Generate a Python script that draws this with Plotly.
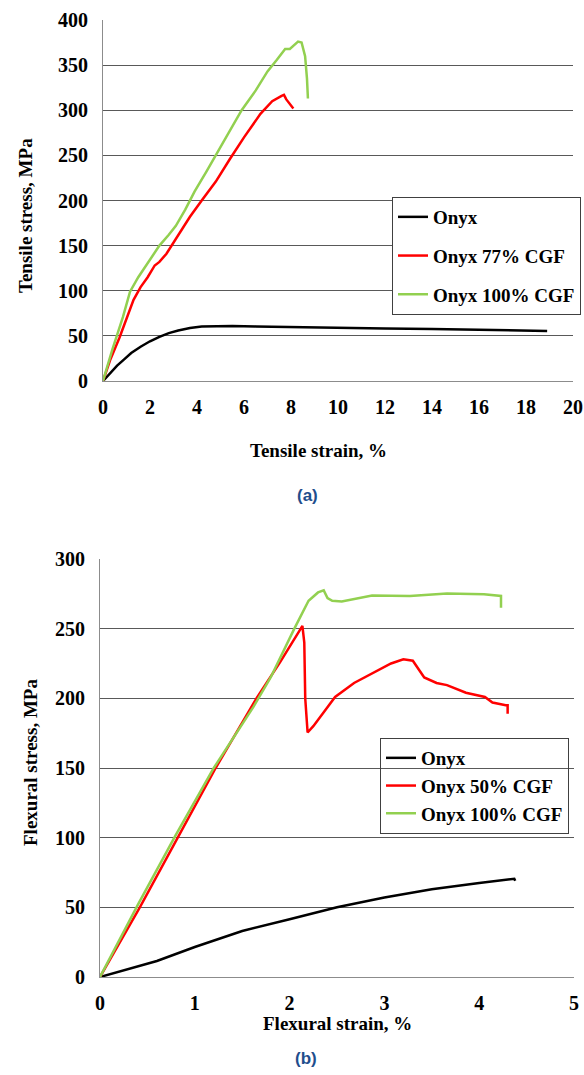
import plotly.graph_objects as go

# ---- (a) tensile test data ----
tens_onyx_x = [0, 0.3, 0.6, 0.9, 1.2, 1.6, 2.0, 2.4, 2.8, 3.2, 3.7, 4.2, 4.8, 5.5, 6.5, 8, 10, 12, 14, 16, 18, 18.9]
tens_onyx_y = [0, 9, 17, 24, 31, 38, 44, 49, 53, 56, 58.7, 60.3, 61, 61, 60.5, 59.7, 59, 58.3, 57.5, 56.8, 56, 55.5]

tens_77_x = [0, 0.3, 0.7, 1.0, 1.3, 1.6, 1.9, 2.2, 2.4, 2.7, 3.0, 3.3, 3.7, 4.2, 4.8, 5.4, 6.0, 6.7, 7.2, 7.6, 7.7, 7.8, 7.95, 8.05, 8.1]
tens_77_y = [0, 23, 48, 70, 90, 104, 115, 128, 132, 141, 153, 166, 182, 200, 221, 246, 270, 296, 310, 316, 317, 312, 307, 305, 302]

tens_100_x = [0, 0.4, 0.85, 1.15, 1.5, 1.8, 2.1, 2.4, 2.8, 3.1, 3.5, 3.9, 4.4, 4.8, 5.4, 5.9, 6.5, 7.0, 7.4, 7.75, 7.95, 8.1, 8.3, 8.45, 8.6, 8.68, 8.72]
tens_100_y = [0, 35, 71, 99, 115, 127, 139, 150, 162, 172, 190, 210, 232, 250, 276, 300, 322, 343, 356, 368, 368, 371, 376, 375, 360, 335, 313]

# ---- (b) flexural test data ----
flex_onyx_x = [0, 0.3, 0.6, 1.0, 1.5, 2.0, 2.5, 3.0, 3.5, 4.0, 4.3, 4.37, 4.38]
flex_onyx_y = [0, 5.5, 11.5, 21.5, 33, 41.5, 50, 57, 63, 67.5, 70, 70.5, 69]

flex_50_x = [0, 0.42, 0.82, 1.22, 1.65, 1.9, 2.1, 2.135, 2.155, 2.165, 2.19, 2.25, 2.36, 2.48, 2.68, 2.87, 3.07, 3.2, 3.3, 3.42, 3.55, 3.66, 3.86, 4.06, 4.14, 4.28, 4.3, 4.3]
flex_50_y = [0, 50, 100, 150, 200, 226, 248, 252, 240, 200, 175.5, 180, 190, 201, 211, 218, 225, 228, 227, 215, 211, 209.5, 204, 201, 197, 195, 195, 189]

flex_100_x = [0, 0.4, 0.8, 1.2, 1.62, 1.8, 2.05, 2.2, 2.3, 2.36, 2.4, 2.45, 2.55, 2.7, 2.87, 3.27, 3.66, 4.05, 4.23, 4.23]
flex_100_y = [0, 52, 102, 150, 194, 215, 250, 270, 276, 277.5, 272, 270, 269.5, 271.5, 273.8, 273.5, 275.3, 274.7, 273.5, 265]

BLACK = "#000000"
RED = "#FF0000"
GREEN = "#92D050"
SERIF = "Liberation Serif"
W, H = 584, 1075

def px(v):
    return v / W

def py(v):
    return 1 - v / H

fig = go.Figure()

def add(x, y, name, color, xa, ya, leg):
    fig.add_trace(go.Scatter(
        x=x, y=y, mode="lines", name=name,
        line=dict(color=color, width=2.5),
        xaxis=xa, yaxis=ya, legend=leg, legendgroup=leg + name,
    ))

add(tens_onyx_x, tens_onyx_y, "Onyx", BLACK, "x", "y", "legend")
add(tens_77_x, tens_77_y, "Onyx 77% CGF", RED, "x", "y", "legend")
add(tens_100_x, tens_100_y, "Onyx 100% CGF", GREEN, "x", "y", "legend")
add(flex_onyx_x, flex_onyx_y, "Onyx", BLACK, "x2", "y2", "legend2")
add(flex_50_x, flex_50_y, "Onyx 50% CGF", RED, "x2", "y2", "legend2")
add(flex_100_x, flex_100_y, "Onyx 100% CGF", GREEN, "x2", "y2", "legend2")

tickfont = dict(family=SERIF, size=20, color="black", weight="bold")
xcommon = dict(showgrid=False, zeroline=False, showline=True, linecolor="#8c8c8c",
               linewidth=1, ticks="", tickfont=tickfont, ticklabelstandoff=8)
ycommon = dict(showgrid=True, gridcolor="#595959", gridwidth=1, zeroline=False,
               showline=True, linecolor="#8c8c8c", linewidth=1, ticks="",
               tickfont=tickfont, ticklabelstandoff=10)

legfont = dict(family=SERIF, size=19, color="black", weight="bold")

fig.update_layout(
    width=W, height=H,
    # autoexpand off: the top legend runs past the right edge, as in the original
    margin=dict(l=0, r=0, t=0, b=0, autoexpand=False),
    paper_bgcolor="white", plot_bgcolor="white",
    xaxis=dict(domain=[px(103), px(573)], range=[0, 20], dtick=2, anchor="y", **xcommon),
    yaxis=dict(domain=[py(381), py(20)], range=[0, 400], dtick=50, anchor="x", **ycommon),
    xaxis2=dict(domain=[px(100), px(574)], range=[0, 5], dtick=1, anchor="y2", **xcommon),
    yaxis2=dict(domain=[py(977), py(559)], range=[0, 300], dtick=50, anchor="x2", **ycommon),
    legend=dict(x=px(392), y=py(197), xanchor="left", yanchor="top",
                bgcolor="white", bordercolor="#404040", borderwidth=1,
                font=legfont, itemwidth=30, traceorder="grouped", tracegroupgap=11),
    legend2=dict(x=px(380), y=py(738), xanchor="left", yanchor="top",
                 bgcolor="rgba(0,0,0,0)", bordercolor="#404040", borderwidth=1,
                 font=legfont, itemwidth=30, traceorder="grouped", tracegroupgap=0),
)

titlefont = dict(family=SERIF, size=19, color="black", weight="bold")
labfont = dict(family="Liberation Sans", size=17, color="#1F4E8C", weight="bold")

notes = [
    ("Tensile strain, %", 318, 450, 0, titlefont),
    ("Tensile stress, MPa", 25, 216, -90, titlefont),
    ("Flexural strain, %", 337, 1023, 0, titlefont),
    ("Flexural stress, MPa", 30, 763, -90, titlefont),
    ("(a)", 307, 495, 0, labfont),
    ("(b)", 306, 1058, 0, labfont),
]
for text, x, y, ang, f in notes:
    fig.add_annotation(text=text, x=px(x), y=py(y), xref="paper", yref="paper",
                       showarrow=False, textangle=ang, font=f,
                       xanchor="center", yanchor="middle")

fix_page = ("document.documentElement.style.overflow='hidden';"
            "document.body.style.margin='0';"
            "document.body.style.overflow='hidden';")
fig.write_html("out.html", post_script=fix_page, config={"displayModeBar": False})
